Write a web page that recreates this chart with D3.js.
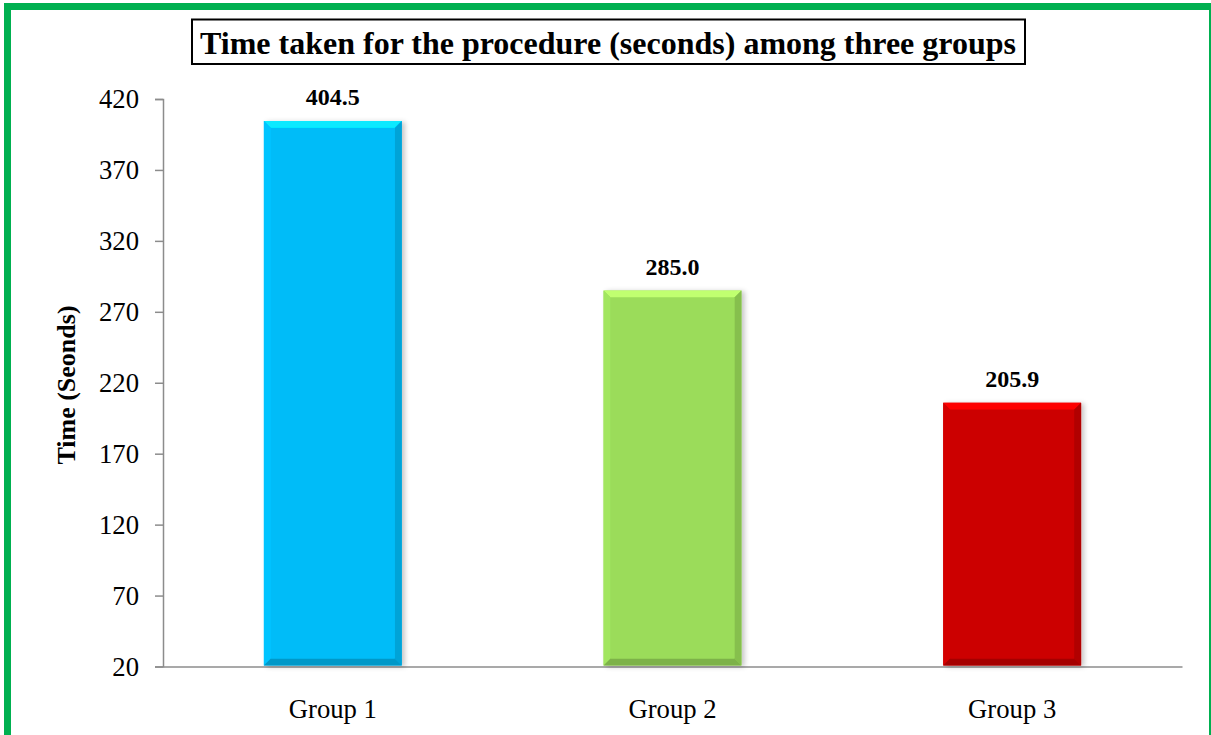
<!DOCTYPE html>
<html><head><meta charset="utf-8">
<script src="https://cdn.jsdelivr.net/npm/d3@7"></script>
<style>body{margin:0;background:#fff}svg{display:block}</style>
</head><body>
<script>
const categories = ["Group 1", "Group 2", "Group 3"];
const values = [404.5, 285.0, 205.9];
const labels = ["404.5", "285.0", "205.9"];
const yTicks = [20, 70, 120, 170, 220, 270, 320, 370, 420];
const colors = ["#06BCF8", "#9BDC5A", "#CC0202"];
const titleText = "Time taken for the procedure (seconds) among three groups";
const yLabel = "Time (Seonds)";

(function () {
const W = 1211, H = 735;
const FONT = "Liberation Serif, Times New Roman, serif";
const svg = d3.select("body").append("svg").attr("width", W).attr("height", H);

// green frame
svg.append("rect").attr("x", 7.5).attr("y", 6.5).attr("width", 1205).attr("height", 760)
  .attr("fill", "#fff").attr("stroke", "#00B050").attr("stroke-width", 7);

const pl = 163, pr = 1182, pt = 99, pb = 666.5;
const x = d3.scaleBand().domain(categories).range([pl, pr]).paddingInner(0.594).paddingOuter(0.297);
const y = d3.scaleLinear().domain([20, 420]).range([pb, pt]);

const defs = svg.append("defs");
const f = defs.append("filter").attr("id", "sh").attr("x", "-10%").attr("y", "-10%").attr("width", "130%").attr("height", "120%");
f.append("feDropShadow").attr("dx", 3).attr("dy", 1).attr("stdDeviation", 2.5).attr("flood-color", "#000").attr("flood-opacity", 0.22);

// axes
const yAxis = svg.append("g").attr("transform", `translate(${pl},0)`)
  .call(d3.axisLeft(y).tickValues(yTicks).tickSize(8).tickPadding(16).tickFormat(d3.format("d")));
yAxis.select(".domain").attr("stroke", "#8c8c8c").attr("stroke-width", 1.5);
yAxis.selectAll(".tick line").attr("stroke", "#8c8c8c").attr("stroke-width", 1.5);
yAxis.selectAll("text").attr("font-family", FONT).attr("font-size", 26.7).attr("fill", "#000");

const xAxis = svg.append("g").attr("transform", `translate(0,${pb})`)
  .call(d3.axisBottom(x).tickSize(0).tickPadding(33));
xAxis.select(".domain").attr("stroke", "#8c8c8c").attr("stroke-width", 1.5);
xAxis.selectAll("text").attr("font-family", FONT).attr("font-size", 26.7).attr("fill", "#000");

// bars with bevel
const bw = x.bandwidth(), b = 7;
const g = svg.append("g");
categories.forEach((c, i) => {
  const x0 = x(c), x1 = x0 + bw, y0 = y(values[i]), y1 = pb - 1;
  const col = d3.color(colors[i]);
  const bg = g.append("g").attr("filter", "url(#sh)");
  bg.append("rect").attr("x", x0).attr("y", y0).attr("width", bw).attr("height", y1 - y0).attr("fill", colors[i]);
  const poly = (pts, fill) => bg.append("polygon").attr("points", pts.map(p => p.join(",")).join(" ")).attr("fill", fill);
  poly([[x0, y0], [x1, y0], [x1 - b, y0 + b], [x0 + b, y0 + b]], col.brighter(0.6).formatHex());
  poly([[x0, y0], [x0 + b, y0 + b], [x0 + b, y1 - b], [x0, y1]], col.brighter(0.12).formatHex());
  poly([[x1, y0], [x1, y1], [x1 - b, y1 - b], [x1 - b, y0 + b]], col.darker(0.4).formatHex());
  poly([[x0, y1], [x0 + b, y1 - b], [x1 - b, y1 - b], [x1, y1]], col.darker(0.6).formatHex());
  bg.append("rect").attr("x", x0 + b).attr("y", y0 + b).attr("width", bw - 2 * b).attr("height", Math.max(0, y1 - y0 - 2 * b)).attr("fill", colors[i]);
  g.append("text").attr("x", x0 + bw / 2).attr("y", y0 - 16).attr("text-anchor", "middle")
    .attr("font-family", FONT).attr("font-weight", "bold").attr("font-size", 24).text(labels[i]);
});

// y label
svg.append("text").attr("transform", "translate(75,385) rotate(-90)").attr("text-anchor", "middle")
  .attr("font-family", FONT).attr("font-weight", "bold").attr("font-size", 26).text(yLabel);

// title box
svg.append("rect").attr("x", 192).attr("y", 19.5).attr("width", 833).attr("height", 44.5)
  .attr("fill", "#fff").attr("stroke", "#000").attr("stroke-width", 2);
svg.append("text").attr("x", 608).attr("y", 54).attr("text-anchor", "middle")
  .attr("font-family", FONT).attr("font-weight", "bold").attr("font-size", 32).text(titleText);
})();
</script>
</body></html>
